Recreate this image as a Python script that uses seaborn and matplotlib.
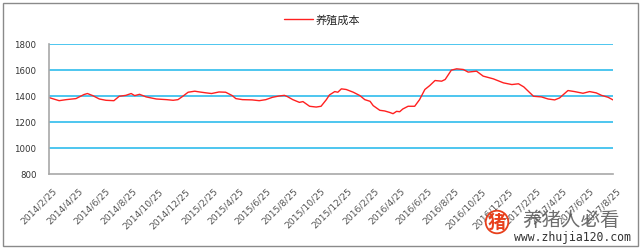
import matplotlib
matplotlib.use("Agg")
import matplotlib.pyplot as plt
import matplotlib.transforms as mtransforms
from matplotlib.patches import Rectangle
from matplotlib.lines import Line2D
import seaborn as sns
import pandas as pd

dates = [
    "2014-02-25", "2014-03-20", "2014-04-05", "2014-04-27", "2014-05-15", "2014-05-23",
    "2014-06-04", "2014-06-19", "2014-07-04", "2014-07-22", "2014-08-03", "2014-08-18",
    "2014-08-30", "2014-09-07", "2014-09-18", "2014-10-03", "2014-10-26", "2014-11-18",
    "2014-12-03", "2014-12-14", "2014-12-25", "2015-01-06", "2015-01-21", "2015-02-01",
    "2015-02-16", "2015-02-28", "2015-03-17", "2015-04-01", "2015-04-16", "2015-04-24",
    "2015-05-09", "2015-05-31", "2015-06-16", "2015-07-01", "2015-07-16", "2015-07-31",
    "2015-08-12", "2015-08-19", "2015-08-31", "2015-09-15", "2015-09-23", "2015-10-08",
    "2015-10-23", "2015-11-03", "2015-11-15", "2015-11-22", "2015-12-04", "2015-12-11",
    "2015-12-19", "2015-12-30", "2016-01-15", "2016-01-30", "2016-02-10", "2016-02-22",
    "2016-02-29", "2016-03-15", "2016-03-26", "2016-04-06", "2016-04-14", "2016-04-22",
    "2016-04-29", "2016-05-06", "2016-05-18", "2016-06-02", "2016-06-13", "2016-06-25",
    "2016-07-06", "2016-07-18", "2016-08-02", "2016-08-10", "2016-08-24", "2016-09-05",
    "2016-09-20", "2016-10-01", "2016-10-20", "2016-11-04", "2016-11-27", "2016-12-20",
    "2017-01-08", "2017-01-23", "2017-02-04", "2017-02-26", "2017-03-16", "2017-03-31",
    "2017-04-15", "2017-04-26", "2017-05-15", "2017-05-30", "2017-06-18", "2017-07-03",
    "2017-07-18", "2017-07-30", "2017-08-14", "2017-08-25",
]
cost = [
    1388, 1364, 1372, 1380, 1411, 1419,
    1403, 1377, 1367, 1364, 1398, 1405,
    1419, 1403, 1413, 1393, 1377, 1372,
    1367, 1372, 1398, 1429, 1437, 1431,
    1424, 1419, 1431, 1429, 1403, 1380,
    1372, 1370, 1364, 1372, 1390, 1400,
    1405, 1395, 1372, 1351, 1357, 1321,
    1315, 1321, 1372, 1408, 1434, 1429,
    1455, 1450, 1429, 1403, 1372, 1359,
    1326, 1290, 1285, 1274, 1264, 1282,
    1279, 1300, 1321, 1321, 1372, 1450,
    1480, 1519, 1514, 1527, 1599, 1609,
    1604, 1584, 1591, 1553, 1532, 1501,
    1488, 1494, 1470, 1398, 1393, 1377,
    1370, 1385, 1442, 1434, 1421, 1434,
    1424, 1405, 1390, 1370,
]
series_name = "养殖成本"
tick_labels = [
    "2014/2/25", "2014/4/25", "2014/6/25", "2014/8/25", "2014/10/25", "2014/12/25",
    "2015/2/25", "2015/4/25", "2015/6/25", "2015/8/25", "2015/10/25", "2015/12/25",
    "2016/2/25", "2016/4/25", "2016/6/25", "2016/8/25", "2016/10/25", "2016/12/25",
    "2017/2/25", "2017/4/25", "2017/6/25", "2017/8/25",
]
y_ticks = [800, 1000, 1200, 1400, 1600, 1800]

sns.set_theme(style="white")
plt.rcParams["font.family"] = ["DejaVu Sans", "Noto Sans CJK SC"]

df = pd.DataFrame({"date": pd.to_datetime(dates), "value": cost, "series": series_name})

fig = plt.figure(figsize=(6.4, 2.48), dpi=100)
ax = fig.add_axes([49 / 640, 1 - 174 / 248, (613 - 49) / 640, (174 - 44) / 248])

for yv in y_ticks[1:]:
    ax.axhline(yv, color="#3fc1ee", lw=1.3, zorder=1)

sns.lineplot(data=df, x="date", y="value", hue="series", palette=["#ff2020"],
             lw=1.0, ax=ax, legend=False, zorder=3)

tick_pos = pd.to_datetime([t.replace("/", "-") for t in tick_labels])
ax.set_xlim(tick_pos[0], tick_pos[-1])
ax.set_ylim(800, 1800)
ax.set_yticks(y_ticks)
ax.set_yticklabels([str(v) for v in y_ticks], fontsize=6.2, color="#333333")
ax.set_xticks(tick_pos)
ax.set_xticklabels([])
offset = mtransforms.ScaledTranslation(6 / 100, -16 / 100, fig.dpi_scale_trans)
for pos, lab in zip(tick_pos, tick_labels):
    ax.text(pos, 0, lab, transform=ax.get_xaxis_transform() + offset,
            fontsize=6.6, color="#555555", rotation=45, ha="right", va="center",
            rotation_mode="anchor", clip_on=False)
ax.tick_params(axis="y", length=0, pad=9)
ax.tick_params(axis="x", length=0, pad=0)
ax.set_xlabel("")
ax.set_ylabel("")
for side in ["top", "right"]:
    ax.spines[side].set_visible(False)
ax.spines["left"].set_color("#a8a8a8")
ax.spines["bottom"].set_color("#a8a8a8")
ax.spines["left"].set_linewidth(1.2)
ax.spines["bottom"].set_linewidth(1.2)
ax.spines["left"].set_zorder(4)

handle = Line2D([0], [0], color="#ff2020", lw=1.0)
fig.legend([handle], [series_name], loc="center", bbox_to_anchor=(322 / 640, 1 - 20 / 248),
           frameon=False, handlelength=2.6, handletextpad=0.3,
           prop={"family": ["Noto Sans CJK SC", "DejaVu Sans"], "size": 8})

# figure border
fig.patches.append(Rectangle((2.5 / 640, 2.5 / 248), 635 / 640, 243 / 248,
                             transform=fig.transFigure, fill=False,
                             edgecolor="#8a8a8a", lw=1.0))

# watermark
fig.text(497 / 640, 1 - 222 / 248, "猪", color="#e8401c", fontsize=13, ha="center",
         va="center", family=["Noto Sans CJK SC"], fontweight="bold",
         bbox=dict(boxstyle="circle,pad=0.1", fc="none", ec="#e8401c", lw=1.3))
fig.text(571 / 640, 1 - 220 / 248, "养猪人必看", color="#555555", fontsize=14,
         ha="center", va="center", family=["Noto Sans CJK SC"], alpha=0.85)
fig.text(572 / 640, 1 - 237 / 248, "www.zhujia120.com", color="#333333", fontsize=8.3,
         ha="center", va="center", family=["DejaVu Sans Mono"])

fig.savefig("out.png", dpi=100)
